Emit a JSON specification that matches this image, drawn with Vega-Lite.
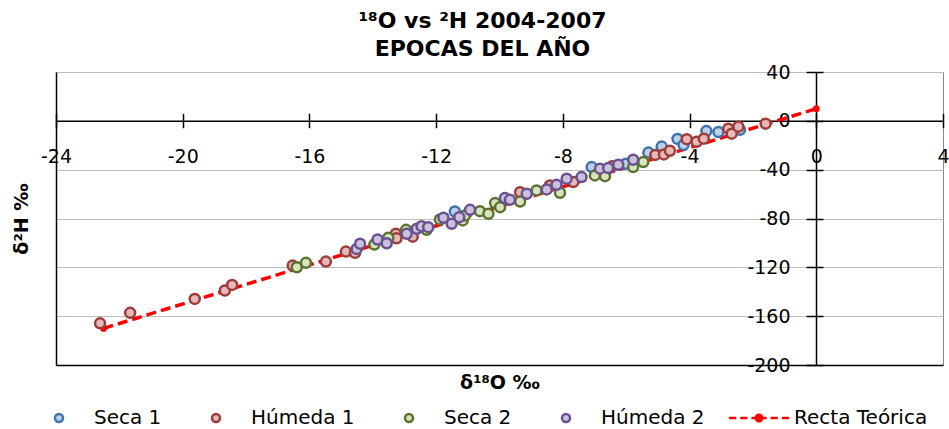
{
  "$schema": "https://vega.github.io/schema/vega-lite/v6.json",
  "width": 887,
  "height": 293,
  "autosize": "none",
  "padding": {"left": 56, "top": 72, "right": 6, "bottom": 64},
  "background": "white",
  "title": {
    "text": ["¹⁸O vs ²H 2004-2007", "EPOCAS DEL AÑO"],
    "font": "DejaVu Sans",
    "fontSize": 22,
    "fontWeight": "bold",
    "color": "#000000",
    "anchor": "middle",
    "dx": -17,
    "offset": 2,
    "lineHeight": 28
  },
  "datasets": {
    "puntos": [
      {"serie": "Seca 1", "d18O": -11.41, "d2H": -74.3},
      {"serie": "Seca 1", "d18O": -7.09, "d2H": -37.9},
      {"serie": "Seca 1", "d18O": -6.01, "d2H": -35.1},
      {"serie": "Seca 1", "d18O": -5.30, "d2H": -26.0},
      {"serie": "Seca 1", "d18O": -4.88, "d2H": -21.1},
      {"serie": "Seca 1", "d18O": -4.38, "d2H": -14.8},
      {"serie": "Seca 1", "d18O": -4.19, "d2H": -19.7},
      {"serie": "Seca 1", "d18O": -3.47, "d2H": -8.4},
      {"serie": "Seca 1", "d18O": -3.09, "d2H": -9.2},
      {"serie": "Seca 1", "d18O": -2.41, "d2H": -7.4},
      {"serie": "Húmeda 1", "d18O": -22.61, "d2H": -165.9},
      {"serie": "Húmeda 1", "d18O": -21.66, "d2H": -157.3},
      {"serie": "Húmeda 1", "d18O": -19.62, "d2H": -145.9},
      {"serie": "Húmeda 1", "d18O": -18.67, "d2H": -139.0},
      {"serie": "Húmeda 1", "d18O": -18.44, "d2H": -134.4},
      {"serie": "Húmeda 1", "d18O": -16.53, "d2H": -118.6},
      {"serie": "Húmeda 1", "d18O": -15.48, "d2H": -115.3},
      {"serie": "Húmeda 1", "d18O": -14.85, "d2H": -107.1},
      {"serie": "Húmeda 1", "d18O": -14.56, "d2H": -108.1},
      {"serie": "Húmeda 1", "d18O": -13.27, "d2H": -92.5},
      {"serie": "Húmeda 1", "d18O": -13.25, "d2H": -96.2},
      {"serie": "Húmeda 1", "d18O": -12.74, "d2H": -94.9},
      {"serie": "Húmeda 1", "d18O": -9.35, "d2H": -58.4},
      {"serie": "Húmeda 1", "d18O": -8.41, "d2H": -52.9},
      {"serie": "Húmeda 1", "d18O": -7.67, "d2H": -50.2},
      {"serie": "Húmeda 1", "d18O": -6.45, "d2H": -37.3},
      {"serie": "Húmeda 1", "d18O": -5.08, "d2H": -27.9},
      {"serie": "Húmeda 1", "d18O": -4.81, "d2H": -27.5},
      {"serie": "Húmeda 1", "d18O": -4.62, "d2H": -24.5},
      {"serie": "Húmeda 1", "d18O": -4.09, "d2H": -15.0},
      {"serie": "Húmeda 1", "d18O": -3.78, "d2H": -17.1},
      {"serie": "Húmeda 1", "d18O": -3.55, "d2H": -14.6},
      {"serie": "Húmeda 1", "d18O": -2.78, "d2H": -6.4},
      {"serie": "Húmeda 1", "d18O": -2.67, "d2H": -10.5},
      {"serie": "Húmeda 1", "d18O": -2.46, "d2H": -4.8},
      {"serie": "Húmeda 1", "d18O": -1.60, "d2H": -2.3},
      {"serie": "Seca 2", "d18O": -16.40, "d2H": -119.9},
      {"serie": "Seca 2", "d18O": -16.11, "d2H": -116.3},
      {"serie": "Seca 2", "d18O": -13.95, "d2H": -101.3},
      {"serie": "Seca 2", "d18O": -13.51, "d2H": -95.8},
      {"serie": "Seca 2", "d18O": -12.95, "d2H": -89.3},
      {"serie": "Seca 2", "d18O": -12.30, "d2H": -89.3},
      {"serie": "Seca 2", "d18O": -11.88, "d2H": -80.8},
      {"serie": "Seca 2", "d18O": -11.16, "d2H": -81.6},
      {"serie": "Seca 2", "d18O": -11.09, "d2H": -77.5},
      {"serie": "Seca 2", "d18O": -10.62, "d2H": -74.0},
      {"serie": "Seca 2", "d18O": -10.35, "d2H": -76.1},
      {"serie": "Seca 2", "d18O": -10.14, "d2H": -67.4},
      {"serie": "Seca 2", "d18O": -9.98, "d2H": -70.7},
      {"serie": "Seca 2", "d18O": -9.35, "d2H": -66.1},
      {"serie": "Seca 2", "d18O": -8.83, "d2H": -57.0},
      {"serie": "Seca 2", "d18O": -8.09, "d2H": -58.9},
      {"serie": "Seca 2", "d18O": -6.99, "d2H": -44.7},
      {"serie": "Seca 2", "d18O": -6.67, "d2H": -45.3},
      {"serie": "Seca 2", "d18O": -5.78, "d2H": -37.9},
      {"serie": "Seca 2", "d18O": -5.46, "d2H": -33.8},
      {"serie": "Húmeda 2", "d18O": -14.51, "d2H": -104.9},
      {"serie": "Húmeda 2", "d18O": -14.40, "d2H": -100.7},
      {"serie": "Húmeda 2", "d18O": -13.85, "d2H": -97.2},
      {"serie": "Húmeda 2", "d18O": -13.56, "d2H": -100.3},
      {"serie": "Húmeda 2", "d18O": -12.93, "d2H": -92.5},
      {"serie": "Húmeda 2", "d18O": -12.61, "d2H": -88.4},
      {"serie": "Húmeda 2", "d18O": -12.46, "d2H": -86.3},
      {"serie": "Húmeda 2", "d18O": -12.25, "d2H": -87.1},
      {"serie": "Húmeda 2", "d18O": -11.77, "d2H": -79.4},
      {"serie": "Húmeda 2", "d18O": -11.51, "d2H": -84.3},
      {"serie": "Húmeda 2", "d18O": -11.27, "d2H": -78.9},
      {"serie": "Húmeda 2", "d18O": -10.93, "d2H": -72.9},
      {"serie": "Húmeda 2", "d18O": -9.83, "d2H": -63.3},
      {"serie": "Húmeda 2", "d18O": -9.67, "d2H": -64.7},
      {"serie": "Húmeda 2", "d18O": -9.14, "d2H": -59.7},
      {"serie": "Húmeda 2", "d18O": -8.51, "d2H": -56.2},
      {"serie": "Húmeda 2", "d18O": -8.20, "d2H": -52.4},
      {"serie": "Húmeda 2", "d18O": -7.88, "d2H": -47.4},
      {"serie": "Húmeda 2", "d18O": -7.41, "d2H": -46.1},
      {"serie": "Húmeda 2", "d18O": -6.83, "d2H": -39.2},
      {"serie": "Húmeda 2", "d18O": -6.57, "d2H": -38.7},
      {"serie": "Húmeda 2", "d18O": -6.25, "d2H": -36.0},
      {"serie": "Húmeda 2", "d18O": -5.78, "d2H": -31.9}
    ],
    "recta": [
      {"d18O": -22.5, "d2H": -170},
      {"d18O": 0, "d2H": 10}
    ]
  },
  "resolve": {"axis": {"x": "independent", "y": "independent"}},
  "layer": [
    {
      "data": {"name": "recta"},
      "mark": {"type": "line", "color": "#ff0000", "strokeWidth": 3.5, "strokeDash": [10, 5]},
      "encoding": {
        "x": {
          "field": "d18O", "type": "quantitative",
          "scale": {"domain": [-24, 4], "nice": false, "zero": false},
          "axis": {"orient": "top", "offset": -48.3, "values": [-24, -20, -16, -12, -8, -4, 0, 4],
                   "domain": false, "labels": false, "grid": false, "ticks": true, "tickSize": 7,
                   "tickColor": "#000000", "tickWidth": 1.5, "title": null}
        },
        "y": {
          "field": "d2H", "type": "quantitative",
          "scale": {"domain": [-200, 40], "nice": false, "zero": false},
          "axis": {"orient": "right", "offset": -127, "values": [-200, -160, -120, -80, -40, 0, 40],
                   "domain": false, "labels": false, "grid": false, "ticks": true, "tickSize": 7,
                   "tickColor": "#000000", "tickWidth": 1.5, "title": null}
        }
      }
    },
    {
      "data": {"name": "recta"},
      "mark": {"type": "point", "filled": true, "color": "#ff0000", "size": 45, "opacity": 1},
      "encoding": {
        "x": {
          "field": "d18O", "type": "quantitative",
          "scale": {"domain": [-24, 4], "nice": false, "zero": false},
          "axis": {"orient": "bottom", "offset": 0, "domain": true, "domainColor": "#000000", "domainWidth": 1.5,
                   "labels": false, "ticks": false, "grid": false,
                   "title": "δ¹⁸O  ‰", "titleFont": "DejaVu Sans", "titleFontSize": 19, "titleFontWeight": "bold",
                   "titleColor": "#000000", "titlePadding": 8}
        },
        "y": {
          "field": "d2H", "type": "quantitative",
          "scale": {"domain": [-200, 40], "nice": false, "zero": false},
          "axis": {"orient": "left", "offset": 0, "values": [-200, -160, -120, -80, -40, 0, 40],
                   "domain": true, "domainColor": "#000000", "domainWidth": 1.5,
                   "labels": false, "ticks": false, "grid": true, "gridColor": "#bdbdbd", "gridWidth": 1,
                   "title": "δ²H ‰", "titleFont": "DejaVu Sans", "titleFontSize": 19, "titleFontWeight": "bold",
                   "titleColor": "#000000", "titlePadding": 25}
        }
      }
    },
    {
      "data": {"name": "puntos"},
      "mark": {"type": "point", "filled": true, "size": 100, "strokeWidth": 2.5, "opacity": 1},
      "encoding": {
        "x": {
          "field": "d18O", "type": "quantitative",
          "scale": {"domain": [-24, 4], "nice": false, "zero": false},
          "axis": {"orient": "bottom", "offset": -244.3, "values": [-24, -20, -16, -12, -8, -4, 0, 4],
                   "domain": true, "domainColor": "#000000", "domainWidth": 1.5,
                   "ticks": true, "tickSize": 7, "tickColor": "#000000", "tickWidth": 1.5,
                   "labels": true, "labelFont": "DejaVu Sans", "labelFontSize": 19, "labelColor": "#000000",
                   "labelExpr": "replace(datum.label, '−', '-')",
                   "labelPadding": 29, "labelBaseline": "middle", "labelFlush": false, "labelOverlap": false,
                   "grid": false, "title": null}
        },
        "y": {
          "field": "d2H", "type": "quantitative",
          "scale": {"domain": [-200, 40], "nice": false, "zero": false},
          "axis": {"orient": "left", "offset": -760, "values": [-200, -160, -120, -80, -40, 0, 40],
                   "domain": true, "domainColor": "#000000", "domainWidth": 1.5,
                   "ticks": true, "tickSize": 10, "tickColor": "#000000", "tickWidth": 1.5,
                   "labels": true, "labelFont": "DejaVu Sans", "labelFontSize": 19, "labelColor": "#000000",
                   "labelExpr": "replace(datum.label, '−', '-')",
                   "labelPadding": 16, "labelFlush": false, "labelOverlap": false,
                   "grid": false, "title": null}
        },
        "fill": {
          "field": "serie", "type": "nominal",
          "scale": {"domain": ["Seca 1", "Húmeda 1", "Seca 2", "Húmeda 2", "Recta Teórica"],
                    "range": ["#bcd0e8", "#e6b9b8", "#d7e4bd", "#ccc1da", "#ff0000"]},
          "legend": {"title": null}
        },
        "stroke": {
          "field": "serie", "type": "nominal",
          "scale": {"domain": ["Seca 1", "Húmeda 1", "Seca 2", "Húmeda 2", "Recta Teórica"],
                    "range": ["#4272ad", "#9b3e3b", "#5a7330", "#6a5192", "#ff0000"]},
          "legend": {"title": null}
        },
        "shape": {
          "field": "serie", "type": "nominal",
          "scale": {"domain": ["Seca 1", "Húmeda 1", "Seca 2", "Húmeda 2", "Recta Teórica"],
                    "range": ["M-7.5,0M7.5,0M-1,0A1,1,0,1,0,1,0A1,1,0,1,0,-1,0Z",
                              "M-7.5,0M7.5,0M-1,0A1,1,0,1,0,1,0A1,1,0,1,0,-1,0Z",
                              "M-7.5,0M7.5,0M-1,0A1,1,0,1,0,1,0A1,1,0,1,0,-1,0Z",
                              "M-7.5,0M7.5,0M-1,0A1,1,0,1,0,1,0A1,1,0,1,0,-1,0Z",
                              "M-7.5,0H-5.7M-4.7,0H-2.9M-1.9,0H1.9M2.9,0H4.7M5.7,0H7.5M-0.8,0A0.8,0.8,0,1,0,0.8,0A0.8,0.8,0,1,0,-0.8,0Z"]},
          "legend": {"title": null}
        }
      }
    }
  ],
  "config": {
    "view": {"stroke": "#8a8a8a", "strokeWidth": 1},
    "axis": {"labelFont": "DejaVu Sans", "titleFont": "DejaVu Sans"},
    "legend": {
      "orient": "none",
      "legendX": -7,
      "legendY": 336,
      "direction": "horizontal",
      "columns": 5,
      "padding": 0,
      "symbolSize": 64,
      "symbolStrokeWidth": 2.5,
      "symbolOpacity": 1,
      "labelFont": "DejaVu Sans",
      "labelFontSize": 20,
      "labelColor": "#000000",
      "labelOffset": 25,
      "columnPadding": 19,
      "labelLimit": 300
    }
  }
}
